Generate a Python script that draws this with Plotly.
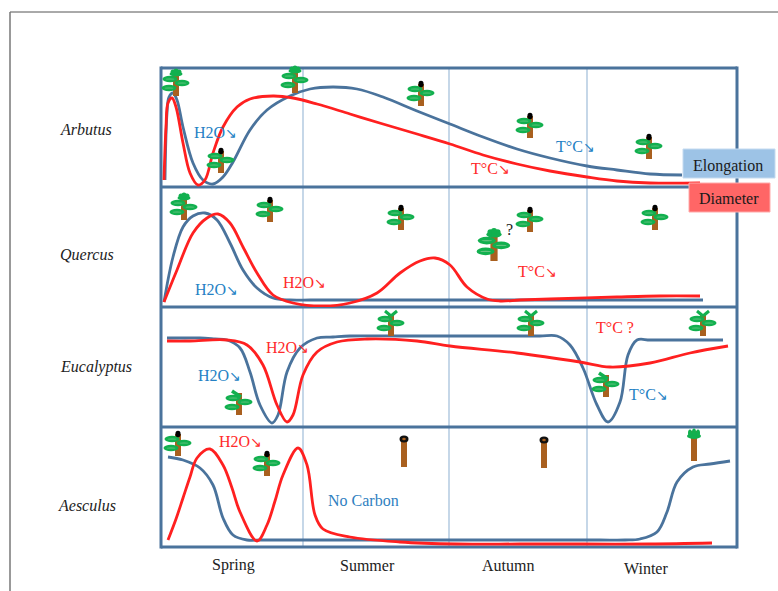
import plotly.graph_objects as go

# ---------- data (time along the year, level) ----------
arbutus_elong_t = [165, 167, 169, 173, 177, 183, 193, 203, 213, 223, 233, 250, 267, 290, 310, 333, 357, 383, 417, 450, 483, 517, 550, 587, 617, 650, 682]
arbutus_elong_v = [180, 113, 97, 93, 100, 127, 163, 180, 184, 177, 162, 130, 110, 96, 89, 87, 89, 97, 111, 124, 137, 149, 158, 166, 170, 174, 175]
arbutus_diam_t = [164, 166, 168, 172, 176, 183, 190, 198, 205, 213, 223, 237, 250, 273, 293, 317, 350, 383, 417, 450, 483, 517, 550, 587, 617, 650, 700]
arbutus_diam_v = [180, 127, 103, 98, 107, 143, 173, 185, 180, 153, 127, 107, 99, 96, 98, 104, 114, 124, 134, 144, 155, 164, 171, 177, 181, 183, 183]

quercus_elong_t = [164, 173, 183, 193, 205, 217, 230, 243, 257, 273, 290, 310, 340, 400, 480, 550, 630, 703]
quercus_elong_v = [302, 257, 227, 216, 213, 220, 243, 270, 288, 298, 300, 300, 300, 300, 300, 300, 300, 300]
quercus_diam_t = [164, 177, 193, 207, 218, 230, 243, 257, 273, 293, 323, 350, 377, 400, 420, 435, 450, 467, 487, 500, 520, 550, 617, 660, 700]
quercus_diam_v = [302, 270, 233, 218, 214, 223, 247, 273, 295, 303, 306, 303, 293, 273, 261, 258, 265, 287, 299, 301, 300, 299, 297, 296, 296]

eucalyptus_elong_t = [167, 185, 200, 215, 227, 240, 250, 260, 272, 278, 287, 300, 317, 333, 350, 400, 450, 500, 540, 557, 570, 583, 597, 608, 620, 628, 637, 650, 680, 723]
eucalyptus_elong_v = [338, 338, 338, 339, 340, 348, 372, 405, 423, 415, 372, 348, 338, 337, 336, 336, 336, 336, 336, 336, 345, 368, 405, 422, 402, 355, 340, 340, 340, 340]
eucalyptus_diam_t = [167, 190, 227, 247, 263, 277, 287, 293, 303, 317, 337, 367, 417, 450, 517, 580, 610, 650, 690, 728]
eucalyptus_diam_v = [341, 341, 340, 345, 365, 405, 422, 415, 375, 352, 342, 339, 341, 346, 353, 362, 367, 363, 353, 346]

aesculus_elong_t = [168, 183, 200, 213, 223, 233, 247, 262, 300, 380, 460, 540, 600, 625, 640, 657, 667, 677, 693, 710, 730]
aesculus_elong_v = [457, 460, 468, 485, 518, 535, 540, 540, 540, 540, 540, 540, 540, 540, 539, 532, 512, 482, 467, 464, 461]
aesculus_diam_t = [168, 176, 183, 190, 197, 210, 223, 232, 240, 257, 267, 275, 283, 298, 307, 315, 323, 350, 400, 457, 520, 583, 650, 712]
aesculus_diam_v = [540, 519, 498, 477, 458, 449, 465, 488, 512, 541, 525, 501, 475, 448, 465, 515, 529, 537, 542, 544, 544, 544, 544, 543]

species = ["Arbutus", "Quercus", "Eucalyptus", "Aesculus"]
species_y = [129, 254, 367, 505]
species_x = [86, 87, 96, 87]
seasons = ["Spring", "Summer", "Autumn", "Winter"]
season_x = [233, 367, 508, 646]
season_y = [565, 565, 565, 568]
season_breaks = [303, 449, 587]
panel_edges = [68, 187, 307, 427, 547]

BLUE_TXT = "#2481c4"
RED_TXT = "#ff2a2a"
notes = [
    ("H2O↘", 215, 132, BLUE_TXT), ("H2O↘", 216, 289, BLUE_TXT), ("H2O↘", 219, 375, BLUE_TXT),
    ("H2O↘", 240, 441, RED_TXT), ("H2O↘", 304, 282, RED_TXT), ("H2O↘", 287, 347, RED_TXT),
    ("T°C↘", 491, 169, RED_TXT), ("T°C↘", 537, 271, RED_TXT),
    ("T°C↘", 575, 147, BLUE_TXT), ("T°C↘", 648, 394, BLUE_TXT),
    ("T°C ?", 615, 327, RED_TXT), ("?", 509, 229, "#222222"),
    ("No Carbon", 363, 500, "#2f7fbf"),
]

# tree icons: (trunk x, top y, crown type, relative size)
trees = [
    (176, 71, "tuft", 1), (295, 68, "tuft", 1), (421, 81, "bud", 1), (530, 113, "bud", 1), (649, 134, "bud", 1), (221, 148, "bud", 1),
    (184, 195, "tuft", 1), (270, 197, "bud", 1), (401, 205, "bud", 1), (494, 231, "tuft", 1.2), (530, 207, "bud", 1), (655, 205, "bud", 1),
    (391, 311, "sprout", 1), (531, 311, "sprout", 1), (703, 311, "sprout", 1), (239, 390, "lean", 1), (606, 372, "lean", 1),
    (178, 431, "bud", 1), (267, 451, "bud", 1),
    (404, 437, "bare", 1), (544, 438, "bare", 1), (694, 431, "budding", 1),
]

# ---------- figure ----------
W, H = 778, 591
LINE = "#4a739c"
fig = go.Figure()


def px(x):
    return x / W


def py(y):
    return 1 - y / H


curves = [
    (arbutus_elong_t, arbutus_elong_v, arbutus_diam_t, arbutus_diam_v),
    (quercus_elong_t, quercus_elong_v, quercus_diam_t, quercus_diam_v),
    (eucalyptus_elong_t, eucalyptus_elong_v, eucalyptus_diam_t, eucalyptus_diam_v),
    (aesculus_elong_t, aesculus_elong_v, aesculus_diam_t, aesculus_diam_v),
]
layout = {}
for i, (et, ev, dt, dv) in enumerate(curves):
    n = "" if i == 0 else str(i + 1)
    top, bot = panel_edges[i], panel_edges[i + 1]
    common = dict(showline=False, showgrid=False, zeroline=False, showticklabels=False, ticks="")
    layout["xaxis" + n] = dict(common, domain=[px(161), px(737)], range=[161, 737], anchor="y" + n)
    layout["yaxis" + n] = dict(common, domain=[py(bot), py(top)], range=[bot, top], anchor="x" + n)
    fig.add_trace(go.Scatter(x=et, y=ev, xaxis="x" + n, yaxis="y" + n, mode="lines", showlegend=False,
                             line=dict(color="#4a739c", width=2.8, shape="spline", smoothing=1.0),
                             cliponaxis=False, name="Elongation"))
    fig.add_trace(go.Scatter(x=dt, y=dv, xaxis="x" + n, yaxis="y" + n, mode="lines", showlegend=False,
                             line=dict(color="#ff2020", width=2.8, shape="spline", smoothing=1.0),
                             cliponaxis=False, name="Diameter"))

shapes = []


def ell(x, y, rx, ry, color, layer="above"):
    shapes.append(dict(type="circle", xref="paper", yref="paper", x0=px(x - rx), x1=px(x + rx),
                       y0=py(y + ry), y1=py(y - ry), fillcolor=color, line=dict(width=0), layer=layer))


def rect(x0, y0, x1, y1, color, line=None):
    shapes.append(dict(type="rect", xref="paper", yref="paper", x0=px(x0), x1=px(x1), y0=py(y1), y1=py(y0),
                       fillcolor=color, line=line or dict(width=0), layer="above"))


def seg(x0, y0, x1, y1, color, w, layer="above"):
    shapes.append(dict(type="line", xref="paper", yref="paper", x0=px(x0), x1=px(x1), y0=py(y0), y1=py(y1),
                       line=dict(color=color, width=w), layer=layer))


# page frame, season separators, panel borders
seg(10, 12, 778, 12, "#555555", 1)
seg(10, 12, 10, 591, "#777777", 1.5)
for b in season_breaks:
    seg(b, 547, b, 68, "#9fbcd9", 1.2, "below")
for e in panel_edges:
    seg(161, e, 737, e, LINE, 3, "below")
for x in (161, 737):
    seg(x, 66.5, x, 548.5, LINE, 3, "below")

BROWN = "#a9601f"
GREEN = "#12b04f"
PALE = "#63c27f"


def leaf(x, y, s):
    ell(x, y, 7.5 * s, 3.2 * s, GREEN)
    ell(x, y, 4.5 * s, 0.6 * s, PALE)


def tree(x, top, kind, s):
    if kind in ("bare", "budding"):
        rect(x - 3, top + (0 if kind == "budding" else 4), x + 3, top + 30, BROWN)
        if kind == "bare":
            ell(x, top + 2, 4.5, 3.5, "#111111")
            ell(x, top + 2, 1.8, 1.2, BROWN)
        else:
            ell(x, top + 5, 7, 3, GREEN)
            ell(x - 4, top + 2, 2, 3.5, GREEN)
            ell(x + 4, top + 2, 2, 3.5, GREEN)
            ell(x, top + 1, 2, 3.5, GREEN)
        return
    rect(x - 3 * s, top + 3 * s, x + 3 * s, top + 25 * s, BROWN)
    leaf(x - 6 * s, top + 8 * s, s)
    leaf(x + 6 * s, top + 12 * s, s)
    leaf(x - 7 * s, top + 17 * s, s)
    if kind == "bud":
        ell(x, top + 3, 2.6, 3.2, "#000000")
    elif kind == "tuft":
        ell(x, top + 3 * s, 6.5 * s, 2.4 * s, GREEN)
        ell(x - 3 * s, top + 1 * s, 2.5 * s, 2.5 * s, GREEN)
        ell(x + 3 * s, top + 1 * s, 2.5 * s, 2.5 * s, GREEN)
        ell(x, top, 2.5 * s, 2.5 * s, GREEN)
    elif kind == "sprout":
        seg(x, top + 5, x - 6, top, GREEN, 3)
        seg(x, top + 5, x + 6, top, GREEN, 3)
    elif kind == "lean":
        seg(x + 2, top + 7, x - 7, top + 1, GREEN, 3.5)


for t in trees:
    tree(*t)

# legend boxes
rect(683, 149, 775, 178, "#9dc3e6", dict(color="#c5dbf0", width=1))
rect(689, 183, 770, 212, "#ff6666", dict(color="#ffaaaa", width=1))

ann = []


def label(text, x, y, color="#222222", size=16, italic=False):
    text = text.replace("↘", '<span style="font-size:13.5px">↘</span>')
    ann.append(dict(text=("<i>%s</i>" % text) if italic else text, x=px(x), y=py(y), xref="paper", yref="paper",
                    showarrow=False, xanchor="center", yanchor="middle",
                    font=dict(family="Liberation Serif", size=size, color=color)))


for s, x, y in zip(species, species_x, species_y):
    label(s, x, y, italic=True)
for s, x, y in zip(seasons, season_x, season_y):
    label(s, x, y)
for text, x, y, c in notes:
    label(text, x, y, c)
label("Elongation", 728, 166, "#1a1a1a")
label("Diameter", 729, 199, "#1a1a1a")

fig.update_layout(width=W, height=H, margin=dict(l=0, r=0, t=0, b=0), paper_bgcolor="white",
                  plot_bgcolor="white", showlegend=False, shapes=shapes, annotations=ann, **layout)
fig.write_html("out.html", config={"displayModeBar": False}, post_script="document.body.style.margin='0';")
